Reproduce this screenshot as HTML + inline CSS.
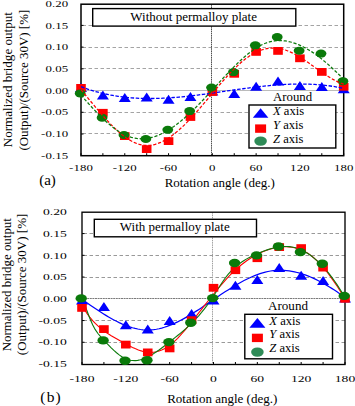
<!DOCTYPE html>
<html><head><meta charset="utf-8"><style>
html,body{margin:0;padding:0;background:#fff;}
svg{display:block;}
text{font-family:"Liberation Serif", serif;fill:#000;}
</style></head><body>
<svg width="355" height="406" viewBox="0 0 355 406">
<rect width="355" height="406" fill="#fff"/>
<line x1="82.5" y1="25.50" x2="343.7" y2="25.50" stroke="#a4a4a4" stroke-width="1" stroke-dasharray="3.5,2.5"/>
<line x1="82.5" y1="47.50" x2="343.7" y2="47.50" stroke="#a4a4a4" stroke-width="1" stroke-dasharray="3.5,2.5"/>
<line x1="82.5" y1="68.50" x2="343.7" y2="68.50" stroke="#a4a4a4" stroke-width="1" stroke-dasharray="3.5,2.5"/>
<line x1="82.5" y1="112.50" x2="343.7" y2="112.50" stroke="#a4a4a4" stroke-width="1" stroke-dasharray="3.5,2.5"/>
<line x1="82.5" y1="133.50" x2="343.7" y2="133.50" stroke="#a4a4a4" stroke-width="1" stroke-dasharray="3.5,2.5"/>
<line x1="81.0" y1="90.50" x2="343.7" y2="90.50" stroke="#bbbbbb" stroke-width="1" />
<line x1="211.50" y1="4.2" x2="211.50" y2="155.7" stroke="#505050" stroke-width="1" stroke-dasharray="1.6,0.6"/>
<rect x="81.0" y="4.2" width="262.70" height="151.50" fill="none" stroke="#000" stroke-width="1.5"/>
<line x1="81.00" y1="155.7" x2="81.00" y2="153.2" stroke="#000" stroke-width="1"/>
<line x1="102.89" y1="155.7" x2="102.89" y2="153.2" stroke="#000" stroke-width="1"/>
<line x1="124.78" y1="155.7" x2="124.78" y2="153.2" stroke="#000" stroke-width="1"/>
<line x1="146.68" y1="155.7" x2="146.68" y2="153.2" stroke="#000" stroke-width="1"/>
<line x1="168.57" y1="155.7" x2="168.57" y2="153.2" stroke="#000" stroke-width="1"/>
<line x1="190.46" y1="155.7" x2="190.46" y2="153.2" stroke="#000" stroke-width="1"/>
<line x1="212.35" y1="155.7" x2="212.35" y2="153.2" stroke="#000" stroke-width="1"/>
<line x1="234.24" y1="155.7" x2="234.24" y2="153.2" stroke="#000" stroke-width="1"/>
<line x1="256.13" y1="155.7" x2="256.13" y2="153.2" stroke="#000" stroke-width="1"/>
<line x1="278.02" y1="155.7" x2="278.02" y2="153.2" stroke="#000" stroke-width="1"/>
<line x1="299.92" y1="155.7" x2="299.92" y2="153.2" stroke="#000" stroke-width="1"/>
<line x1="321.81" y1="155.7" x2="321.81" y2="153.2" stroke="#000" stroke-width="1"/>
<line x1="343.70" y1="155.7" x2="343.70" y2="153.2" stroke="#000" stroke-width="1"/>
<line x1="81.0" y1="25.39" x2="83.5" y2="25.39" stroke="#000" stroke-width="1"/>
<line x1="81.0" y1="47.11" x2="83.5" y2="47.11" stroke="#000" stroke-width="1"/>
<line x1="81.0" y1="68.83" x2="83.5" y2="68.83" stroke="#000" stroke-width="1"/>
<line x1="81.0" y1="90.55" x2="83.5" y2="90.55" stroke="#000" stroke-width="1"/>
<line x1="81.0" y1="112.27" x2="83.5" y2="112.27" stroke="#000" stroke-width="1"/>
<line x1="81.0" y1="133.99" x2="83.5" y2="133.99" stroke="#000" stroke-width="1"/>
<rect x="92.7" y="8.6" width="203.10000000000002" height="17.5" fill="#fff" stroke="#000" stroke-width="1.4"/>
<text x="193.65" y="20.700000000000003" text-anchor="middle" font-size="13">Without permalloy plate</text>
<polygon points="75.00,92.00 87.00,92.00 81.00,83.00" fill="#0000ff"/>
<polygon points="96.89,99.50 108.89,99.50 102.89,90.50" fill="#0000ff"/>
<polygon points="118.78,102.00 130.78,102.00 124.78,93.00" fill="#0000ff"/>
<polygon points="140.68,101.40 152.68,101.40 146.68,92.40" fill="#0000ff"/>
<polygon points="162.57,103.70 174.57,103.70 168.57,94.70" fill="#0000ff"/>
<polygon points="184.46,100.90 196.46,100.90 190.46,91.90" fill="#0000ff"/>
<polygon points="206.35,95.50 218.35,95.50 212.35,86.50" fill="#0000ff"/>
<polygon points="228.24,97.90 240.24,97.90 234.24,88.90" fill="#0000ff"/>
<polygon points="250.13,90.70 262.13,90.70 256.13,81.70" fill="#0000ff"/>
<polygon points="272.02,85.60 284.02,85.60 278.02,76.60" fill="#0000ff"/>
<polygon points="293.92,90.00 305.92,90.00 299.92,81.00" fill="#0000ff"/>
<polygon points="315.81,91.10 327.81,91.10 321.81,82.10" fill="#0000ff"/>
<polygon points="337.70,93.30 349.70,93.30 343.70,84.30" fill="#0000ff"/>
<rect x="76.20" y="84.00" width="9.6" height="7.8" fill="#ff0000"/>
<rect x="98.09" y="108.90" width="9.6" height="7.8" fill="#ff0000"/>
<rect x="119.98" y="132.20" width="9.6" height="7.8" fill="#ff0000"/>
<rect x="141.88" y="145.20" width="9.6" height="7.8" fill="#ff0000"/>
<rect x="163.77" y="137.20" width="9.6" height="7.8" fill="#ff0000"/>
<rect x="185.66" y="113.10" width="9.6" height="7.8" fill="#ff0000"/>
<rect x="207.55" y="88.10" width="9.6" height="7.8" fill="#ff0000"/>
<rect x="229.44" y="69.90" width="9.6" height="7.8" fill="#ff0000"/>
<rect x="251.33" y="48.00" width="9.6" height="7.8" fill="#ff0000"/>
<rect x="273.22" y="47.00" width="9.6" height="7.8" fill="#ff0000"/>
<rect x="295.12" y="54.40" width="9.6" height="7.8" fill="#ff0000"/>
<rect x="317.01" y="68.00" width="9.6" height="7.8" fill="#ff0000"/>
<rect x="338.90" y="82.90" width="9.6" height="7.8" fill="#ff0000"/>
<ellipse cx="80.20" cy="93.40" rx="5.4" ry="4.0" fill="#0a7a0a"/>
<ellipse cx="102.09" cy="117.70" rx="5.4" ry="4.0" fill="#0a7a0a"/>
<ellipse cx="123.98" cy="135.00" rx="5.4" ry="4.0" fill="#0a7a0a"/>
<ellipse cx="145.88" cy="139.00" rx="5.4" ry="4.0" fill="#0a7a0a"/>
<ellipse cx="167.77" cy="129.80" rx="5.4" ry="4.0" fill="#0a7a0a"/>
<ellipse cx="189.66" cy="111.10" rx="5.4" ry="4.0" fill="#0a7a0a"/>
<ellipse cx="211.55" cy="87.60" rx="5.4" ry="4.0" fill="#0a7a0a"/>
<ellipse cx="233.44" cy="72.10" rx="5.4" ry="4.0" fill="#0a7a0a"/>
<ellipse cx="255.33" cy="45.30" rx="5.4" ry="4.0" fill="#0a7a0a"/>
<ellipse cx="277.22" cy="37.10" rx="5.4" ry="4.0" fill="#0a7a0a"/>
<ellipse cx="299.12" cy="50.70" rx="5.4" ry="4.0" fill="#0a7a0a"/>
<ellipse cx="321.01" cy="53.60" rx="5.4" ry="4.0" fill="#0a7a0a"/>
<ellipse cx="342.90" cy="81.20" rx="5.4" ry="4.0" fill="#0a7a0a"/>
<polyline points="81.00,86.69 83.65,87.68 86.31,88.63 88.96,89.52 91.61,90.36 94.27,91.16 96.92,91.91 99.57,92.62 102.23,93.27 104.88,93.89 107.54,94.46 110.19,94.99 112.84,95.48 115.50,95.93 118.15,96.34 120.80,96.71 123.46,97.04 126.11,97.34 128.76,97.60 131.42,97.82 134.07,98.02 136.72,98.18 139.38,98.30 142.03,98.40 144.68,98.47 147.34,98.51 149.99,98.52 152.65,98.50 155.30,98.46 157.95,98.40 160.61,98.30 163.26,98.19 165.91,98.05 168.57,97.90 171.22,97.72 173.87,97.52 176.53,97.31 179.18,97.07 181.83,96.82 184.49,96.56 187.14,96.28 189.79,95.99 192.45,95.68 195.10,95.36 197.76,95.04 200.41,94.70 203.06,94.35 205.72,94.00 208.37,93.64 211.02,93.27 213.68,92.90 216.33,92.52 218.98,92.14 221.64,91.76 224.29,91.38 226.94,90.99 229.60,90.61 232.25,90.23 234.91,89.85 237.56,89.48 240.21,89.11 242.87,88.74 245.52,88.38 248.17,88.03 250.83,87.69 253.48,87.35 256.13,87.03 258.79,86.72 261.44,86.42 264.09,86.13 266.75,85.86 269.40,85.60 272.05,85.36 274.71,85.14 277.36,84.93 280.02,84.74 282.67,84.57 285.32,84.42 287.98,84.30 290.63,84.20 293.28,84.12 295.94,84.06 298.59,84.03 301.24,84.03 303.90,84.05 306.55,84.10 309.20,84.18 311.86,84.30 314.51,84.44 317.16,84.61 319.82,84.82 322.47,85.07 325.13,85.34 327.78,85.66 330.43,86.01 333.09,86.39 335.74,86.82 338.39,87.29 341.05,87.79 343.70,88.34" fill="none" stroke="#0000ff" stroke-width="1.3" stroke-dasharray="3.5,1.6"/>
<polyline points="81.00,89.72 83.65,92.89 86.31,96.09 88.96,99.29 91.61,102.49 94.27,105.67 96.92,108.82 99.57,111.93 102.23,114.99 104.88,117.97 107.54,120.87 110.19,123.67 112.84,126.37 115.50,128.94 118.15,131.38 120.80,133.67 123.46,135.79 126.11,137.75 128.76,139.51 131.42,141.07 134.07,142.42 136.72,143.53 139.38,144.41 142.03,145.03 144.68,145.39 147.34,145.49 149.99,145.33 152.65,144.93 155.30,144.30 157.95,143.45 160.61,142.38 163.26,141.11 165.91,139.65 168.57,138.00 171.22,136.18 173.87,134.20 176.53,132.07 179.18,129.78 181.83,127.37 184.49,124.83 187.14,122.18 189.79,119.42 192.45,116.57 195.10,113.63 197.76,110.62 200.41,107.56 203.06,104.45 205.72,101.31 208.37,98.15 211.02,94.98 213.68,91.82 216.33,88.68 218.98,85.56 221.64,82.49 224.29,79.47 226.94,76.53 229.60,73.66 232.25,70.88 234.91,68.22 237.56,65.67 240.21,63.25 242.87,60.97 245.52,58.85 248.17,56.90 250.83,55.13 253.48,53.55 256.13,52.17 258.79,50.99 261.44,50.01 264.09,49.23 266.75,48.64 269.40,48.25 272.05,48.06 274.71,48.06 277.36,48.26 280.02,48.64 282.67,49.23 285.32,50.00 287.98,50.96 290.63,52.09 293.28,53.37 295.94,54.79 298.59,56.33 301.24,57.98 303.90,59.70 306.55,61.50 309.20,63.35 311.86,65.23 314.51,67.13 317.16,69.02 319.82,70.90 322.47,72.74 325.13,74.53 327.78,76.25 330.43,77.89 333.09,79.42 335.74,80.82 338.39,82.09 341.05,83.20 343.70,84.14" fill="none" stroke="#ff0000" stroke-width="1.25" stroke-dasharray="3.2,1.8"/>
<polyline points="81.00,95.04 83.65,98.07 86.31,101.08 88.96,104.05 91.61,106.96 94.27,109.82 96.92,112.61 99.57,115.32 102.23,117.93 104.88,120.44 107.54,122.84 110.19,125.10 112.84,127.24 115.50,129.22 118.15,131.04 120.80,132.69 123.46,134.16 126.11,135.44 128.76,136.52 131.42,137.38 134.07,138.03 136.72,138.47 139.38,138.72 142.03,138.77 144.68,138.63 147.34,138.32 149.99,137.83 152.65,137.16 155.30,136.33 157.95,135.35 160.61,134.21 163.26,132.92 165.91,131.50 168.57,129.94 171.22,128.24 173.87,126.43 176.53,124.50 179.18,122.45 181.83,120.30 184.49,118.05 187.14,115.70 189.79,113.26 192.45,110.74 195.10,108.15 197.76,105.48 200.41,102.75 203.06,99.97 205.72,97.14 208.37,94.27 211.02,91.39 213.68,88.48 216.33,85.58 218.98,82.67 221.64,79.78 224.29,76.91 226.94,74.07 229.60,71.28 232.25,68.53 234.91,65.85 237.56,63.24 240.21,60.72 242.87,58.29 245.52,55.97 248.17,53.77 250.83,51.71 253.48,49.79 256.13,48.02 258.79,46.43 261.44,45.02 264.09,43.80 266.75,42.78 269.40,41.96 272.05,41.34 274.71,40.90 277.36,40.65 280.02,40.59 282.67,40.69 285.32,40.97 287.98,41.41 290.63,42.00 293.28,42.75 295.94,43.65 298.59,44.70 301.24,45.88 303.90,47.19 306.55,48.64 309.20,50.20 311.86,51.88 314.51,53.68 317.16,55.58 319.82,57.58 322.47,59.68 325.13,61.87 327.78,64.15 330.43,66.51 333.09,68.94 335.74,71.45 338.39,74.02 341.05,76.65 343.70,79.33" fill="none" stroke="#0a7a0a" stroke-width="1.25" stroke-dasharray="3.2,1.8"/>
<text x="273.0" y="101.2" font-size="12.8">Around</text>
<rect x="249.0" y="105.0" width="86.80000000000001" height="43.0" fill="#fff" stroke="#000" stroke-width="1.4"/>
<text x="273.0" y="115.4" font-size="12.6"><tspan font-style="italic">X</tspan> axis</text>
<text x="273.0" y="129.3" font-size="12.6"><tspan font-style="italic">Y</tspan> axis</text>
<text x="273.0" y="143.1" font-size="12.6"><tspan font-style="italic">Z</tspan> axis</text>
<polygon points="252.85,117.75 268.35,117.75 260.60,108.25" fill="#0000ff"/>
<rect x="255.10" y="124.40" width="11.0" height="8.4" fill="#ff0000"/>
<ellipse cx="260.60" cy="141.10" rx="6.3" ry="4.7" fill="#2e8b57"/>
<text x="0" y="0" transform="translate(68.4,6.87) scale(1.6,1)" text-anchor="end" font-size="8" font-weight="normal" letter-spacing="0.1">0.20</text>
<text x="0" y="0" transform="translate(68.4,28.59) scale(1.6,1)" text-anchor="end" font-size="8" font-weight="normal" letter-spacing="0.1">0.15</text>
<text x="0" y="0" transform="translate(68.4,50.31) scale(1.6,1)" text-anchor="end" font-size="8" font-weight="normal" letter-spacing="0.1">0.10</text>
<text x="0" y="0" transform="translate(68.4,72.03) scale(1.6,1)" text-anchor="end" font-size="8" font-weight="normal" letter-spacing="0.1">0.05</text>
<text x="0" y="0" transform="translate(68.4,93.75) scale(1.6,1)" text-anchor="end" font-size="8" font-weight="normal" letter-spacing="0.1">0.00</text>
<text x="0" y="0" transform="translate(68.4,115.47) scale(1.6,1)" text-anchor="end" font-size="8" font-weight="normal" letter-spacing="0.1">-0.05</text>
<text x="0" y="0" transform="translate(68.4,137.19) scale(1.6,1)" text-anchor="end" font-size="8" font-weight="normal" letter-spacing="0.1">-0.10</text>
<text x="0" y="0" transform="translate(68.4,158.91) scale(1.6,1)" text-anchor="end" font-size="8" font-weight="normal" letter-spacing="0.1">-0.15</text>
<text x="0" y="0" transform="translate(81.00,171.4) scale(1.6,1)" text-anchor="middle" font-size="8" font-weight="normal" letter-spacing="0.1">-180</text>
<text x="0" y="0" transform="translate(124.78,171.4) scale(1.6,1)" text-anchor="middle" font-size="8" font-weight="normal" letter-spacing="0.1">-120</text>
<text x="0" y="0" transform="translate(168.57,171.4) scale(1.6,1)" text-anchor="middle" font-size="8" font-weight="normal" letter-spacing="0.1">-60</text>
<text x="0" y="0" transform="translate(212.35,171.4) scale(1.6,1)" text-anchor="middle" font-size="8" font-weight="normal" letter-spacing="0.1">0</text>
<text x="0" y="0" transform="translate(256.13,171.4) scale(1.6,1)" text-anchor="middle" font-size="8" font-weight="normal" letter-spacing="0.1">60</text>
<text x="0" y="0" transform="translate(299.92,171.4) scale(1.6,1)" text-anchor="middle" font-size="8" font-weight="normal" letter-spacing="0.1">120</text>
<text x="0" y="0" transform="translate(343.70,171.4) scale(1.6,1)" text-anchor="middle" font-size="8" font-weight="normal" letter-spacing="0.1">180</text>
<text x="39.2" y="185.2" font-size="15">(a)</text>
<text x="164.7" y="186.7" font-size="13">Rotation angle (deg.)</text>
<text transform="translate(12.1,147.3) rotate(-90)" font-size="13.1">Normalized bridge output</text>
<text transform="translate(27.9,150.6) rotate(-90)" font-size="12.95">(Output)/(Source 30V) [%]</text>
<line x1="83.5" y1="233.50" x2="345.0" y2="233.50" stroke="#999999" stroke-width="1" stroke-dasharray="3.5,2.5"/>
<line x1="83.5" y1="255.50" x2="345.0" y2="255.50" stroke="#999999" stroke-width="1" stroke-dasharray="3.5,2.5"/>
<line x1="83.5" y1="277.50" x2="345.0" y2="277.50" stroke="#999999" stroke-width="1" stroke-dasharray="3.5,2.5"/>
<line x1="83.5" y1="320.50" x2="345.0" y2="320.50" stroke="#999999" stroke-width="1" stroke-dasharray="3.5,2.5"/>
<line x1="83.5" y1="342.50" x2="345.0" y2="342.50" stroke="#999999" stroke-width="1" stroke-dasharray="3.5,2.5"/>
<line x1="82.0" y1="298.50" x2="345.0" y2="298.50" stroke="#7a7a7a" stroke-width="1" stroke-dasharray="2,0.6"/>
<line x1="212.50" y1="212.2" x2="212.50" y2="364.5" stroke="#a0a0a0" stroke-width="1" stroke-dasharray="1.5,0.8"/>
<rect x="82.0" y="212.2" width="263.00" height="152.30" fill="none" stroke="#000" stroke-width="1.35"/>
<line x1="82.00" y1="364.5" x2="82.00" y2="362.0" stroke="#000" stroke-width="1"/>
<line x1="103.92" y1="364.5" x2="103.92" y2="362.0" stroke="#000" stroke-width="1"/>
<line x1="125.83" y1="364.5" x2="125.83" y2="362.0" stroke="#000" stroke-width="1"/>
<line x1="147.75" y1="364.5" x2="147.75" y2="362.0" stroke="#000" stroke-width="1"/>
<line x1="169.67" y1="364.5" x2="169.67" y2="362.0" stroke="#000" stroke-width="1"/>
<line x1="191.58" y1="364.5" x2="191.58" y2="362.0" stroke="#000" stroke-width="1"/>
<line x1="213.50" y1="364.5" x2="213.50" y2="362.0" stroke="#000" stroke-width="1"/>
<line x1="235.42" y1="364.5" x2="235.42" y2="362.0" stroke="#000" stroke-width="1"/>
<line x1="257.33" y1="364.5" x2="257.33" y2="362.0" stroke="#000" stroke-width="1"/>
<line x1="279.25" y1="364.5" x2="279.25" y2="362.0" stroke="#000" stroke-width="1"/>
<line x1="301.17" y1="364.5" x2="301.17" y2="362.0" stroke="#000" stroke-width="1"/>
<line x1="323.08" y1="364.5" x2="323.08" y2="362.0" stroke="#000" stroke-width="1"/>
<line x1="345.00" y1="364.5" x2="345.00" y2="362.0" stroke="#000" stroke-width="1"/>
<line x1="82.0" y1="233.58" x2="84.5" y2="233.58" stroke="#000" stroke-width="1"/>
<line x1="82.0" y1="255.32" x2="84.5" y2="255.32" stroke="#000" stroke-width="1"/>
<line x1="82.0" y1="277.06" x2="84.5" y2="277.06" stroke="#000" stroke-width="1"/>
<line x1="82.0" y1="298.80" x2="84.5" y2="298.80" stroke="#000" stroke-width="1"/>
<line x1="82.0" y1="320.54" x2="84.5" y2="320.54" stroke="#000" stroke-width="1"/>
<line x1="82.0" y1="342.28" x2="84.5" y2="342.28" stroke="#000" stroke-width="1"/>
<rect x="94.3" y="219.3" width="162.2" height="17.5" fill="#fff" stroke="#000" stroke-width="1.4"/>
<text x="174.8" y="231.4" text-anchor="middle" font-size="13">With permalloy plate</text>
<polyline points="82.00,299.37 84.66,301.23 87.31,303.08 89.97,304.93 92.63,306.75 95.28,308.55 97.94,310.32 100.60,312.05 103.25,313.73 105.91,315.37 108.57,316.96 111.22,318.48 113.88,319.93 116.54,321.32 119.19,322.62 121.85,323.84 124.51,324.97 127.16,326.00 129.82,326.93 132.47,327.74 135.13,328.45 137.79,329.03 140.44,329.48 143.10,329.80 145.76,329.99 148.41,330.02 151.07,329.91 153.73,329.65 156.38,329.25 159.04,328.73 161.70,328.07 164.35,327.30 167.01,326.41 169.67,325.42 172.32,324.33 174.98,323.15 177.64,321.88 180.29,320.53 182.95,319.10 185.61,317.61 188.26,316.06 190.92,314.46 193.58,312.81 196.23,311.12 198.89,309.40 201.55,307.64 204.20,305.87 206.86,304.08 209.52,302.29 212.17,300.48 214.83,298.69 217.48,296.89 220.14,295.12 222.80,293.35 225.45,291.62 228.11,289.91 230.77,288.24 233.42,286.60 236.08,285.02 238.74,283.48 241.39,282.00 244.05,280.58 246.71,279.23 249.36,277.96 252.02,276.76 254.68,275.64 257.33,274.62 259.99,273.69 262.65,272.86 265.30,272.13 267.96,271.52 270.62,271.02 273.27,270.65 275.93,270.40 278.59,270.27 281.24,270.25 283.90,270.35 286.56,270.56 289.21,270.88 291.87,271.31 294.53,271.84 297.18,272.47 299.84,273.19 302.49,274.01 305.15,274.92 307.81,275.92 310.46,277.00 313.12,278.17 315.78,279.41 318.43,280.73 321.09,282.13 323.75,283.59 326.40,285.12 329.06,286.72 331.72,288.38 334.37,290.09 337.03,291.86 339.69,293.69 342.34,295.57 345.00,297.49" fill="none" stroke="#0000ff" stroke-width="1.2" />
<polyline points="82.00,305.56 84.66,309.99 87.31,313.94 89.97,317.46 92.63,320.61 95.28,323.43 97.94,325.96 100.60,328.26 103.25,330.36 105.91,332.28 108.57,334.06 111.22,335.72 113.88,337.29 116.54,338.80 119.19,340.28 121.85,341.76 124.51,343.24 127.16,344.69 129.82,346.08 132.47,347.41 135.13,348.62 137.79,349.71 140.44,350.65 143.10,351.41 145.76,351.96 148.41,352.28 151.07,352.36 153.73,352.19 156.38,351.75 159.04,351.06 161.70,350.08 164.35,348.82 167.01,347.27 169.67,345.42 172.32,343.29 174.98,340.89 177.64,338.27 180.29,335.45 182.95,332.46 185.61,329.34 188.26,326.12 190.92,322.82 193.58,319.47 196.23,316.10 198.89,312.70 201.55,309.29 204.20,305.89 206.86,302.49 209.52,299.12 212.17,295.78 214.83,292.49 217.48,289.25 220.14,286.09 222.80,283.02 225.45,280.04 228.11,277.18 230.77,274.44 233.42,271.82 236.08,269.34 238.74,267.00 241.39,264.79 244.05,262.72 246.71,260.77 249.36,258.96 252.02,257.26 254.68,255.70 257.33,254.26 259.99,252.95 262.65,251.76 265.30,250.70 267.96,249.77 270.62,248.96 273.27,248.28 275.93,247.72 278.59,247.29 281.24,246.98 283.90,246.81 286.56,246.79 289.21,246.92 291.87,247.23 294.53,247.72 297.18,248.40 299.84,249.29 302.49,250.40 305.15,251.74 307.81,253.33 310.46,255.17 313.12,257.27 315.78,259.62 318.43,262.21 321.09,265.02 323.75,268.05 326.40,271.28 329.06,274.71 331.72,278.32 334.37,282.10 337.03,286.05 339.69,290.14 342.34,294.37 345.00,298.72" fill="none" stroke="#ff0000" stroke-width="1.1" />
<polyline points="82.00,297.14 84.66,304.39 87.31,311.73 89.97,318.68 92.63,324.78 95.28,329.67 97.94,333.53 100.60,336.71 103.25,339.57 105.91,342.39 108.57,345.17 111.22,347.86 113.88,350.41 116.54,352.77 119.19,354.90 121.85,356.75 124.51,358.28 127.16,359.42 129.82,360.18 132.47,360.57 135.13,360.62 137.79,360.36 140.44,359.80 143.10,358.99 145.76,357.93 148.41,356.65 151.07,355.19 153.73,353.57 156.38,351.81 159.04,349.94 161.70,347.97 164.35,345.95 167.01,343.89 169.67,341.83 172.32,339.75 174.98,337.66 177.64,335.53 180.29,333.35 182.95,331.11 185.61,328.79 188.26,326.38 190.92,323.87 193.58,321.23 196.23,318.45 198.89,315.52 201.55,312.42 204.20,309.15 206.86,305.68 209.52,301.99 212.17,298.08 214.83,293.95 217.48,289.68 220.14,285.45 222.80,281.44 225.45,277.77 228.11,274.45 230.77,271.45 233.42,268.76 236.08,266.34 238.74,264.16 241.39,262.21 244.05,260.46 246.71,258.87 249.36,257.43 252.02,256.11 254.68,254.88 257.33,253.71 259.99,252.59 262.65,251.53 265.30,250.53 267.96,249.61 270.62,248.78 273.27,248.06 275.93,247.45 278.59,246.97 281.24,246.64 283.90,246.47 286.56,246.46 289.21,246.63 291.87,247.00 294.53,247.57 297.18,248.35 299.84,249.33 302.49,250.52 305.15,251.91 307.81,253.51 310.46,255.31 313.12,257.32 315.78,259.54 318.43,261.96 321.09,264.58 323.75,267.42 326.40,270.45 329.06,273.69 331.72,277.14 334.37,280.80 337.03,284.66 339.69,288.72 342.34,293.00 345.00,297.48" fill="none" stroke="#0a7a0a" stroke-width="1.1" />
<polygon points="76.00,304.50 88.00,304.50 82.00,295.50" fill="#0000ff"/>
<polygon points="97.92,310.90 109.92,310.90 103.92,301.90" fill="#0000ff"/>
<polygon points="119.83,329.20 131.83,329.20 125.83,320.20" fill="#0000ff"/>
<polygon points="141.75,333.60 153.75,333.60 147.75,324.60" fill="#0000ff"/>
<polygon points="163.67,325.10 175.67,325.10 169.67,316.10" fill="#0000ff"/>
<polygon points="185.58,317.90 197.58,317.90 191.58,308.90" fill="#0000ff"/>
<polygon points="207.50,304.50 219.50,304.50 213.50,295.50" fill="#0000ff"/>
<polygon points="229.42,289.70 241.42,289.70 235.42,280.70" fill="#0000ff"/>
<polygon points="251.33,283.90 263.33,283.90 257.33,274.90" fill="#0000ff"/>
<polygon points="273.25,272.00 285.25,272.00 279.25,263.00" fill="#0000ff"/>
<polygon points="295.17,279.70 307.17,279.70 301.17,270.70" fill="#0000ff"/>
<polygon points="317.08,284.90 329.08,284.90 323.08,275.90" fill="#0000ff"/>
<polygon points="339.00,302.50 351.00,302.50 345.00,293.50" fill="#0000ff"/>
<rect x="77.20" y="304.00" width="9.6" height="7.8" fill="#ff0000"/>
<rect x="99.12" y="325.20" width="9.6" height="7.8" fill="#ff0000"/>
<rect x="121.03" y="340.70" width="9.6" height="7.8" fill="#ff0000"/>
<rect x="142.95" y="348.50" width="9.6" height="7.8" fill="#ff0000"/>
<rect x="164.87" y="344.50" width="9.6" height="7.8" fill="#ff0000"/>
<rect x="186.78" y="316.30" width="9.6" height="7.8" fill="#ff0000"/>
<rect x="208.70" y="283.90" width="9.6" height="7.8" fill="#ff0000"/>
<rect x="230.62" y="266.30" width="9.6" height="7.8" fill="#ff0000"/>
<rect x="252.53" y="254.30" width="9.6" height="7.8" fill="#ff0000"/>
<rect x="274.45" y="243.20" width="9.6" height="7.8" fill="#ff0000"/>
<rect x="296.37" y="244.20" width="9.6" height="7.8" fill="#ff0000"/>
<rect x="318.28" y="263.70" width="9.6" height="7.8" fill="#ff0000"/>
<rect x="340.20" y="294.90" width="9.6" height="7.8" fill="#ff0000"/>
<ellipse cx="81.20" cy="298.40" rx="5.7" ry="4.2" fill="#0a7a0a"/>
<ellipse cx="103.12" cy="340.40" rx="5.7" ry="4.2" fill="#0a7a0a"/>
<ellipse cx="125.03" cy="360.70" rx="5.7" ry="4.2" fill="#0a7a0a"/>
<ellipse cx="146.95" cy="360.20" rx="5.7" ry="4.2" fill="#0a7a0a"/>
<ellipse cx="168.87" cy="342.10" rx="5.7" ry="4.2" fill="#0a7a0a"/>
<ellipse cx="190.78" cy="322.70" rx="5.7" ry="4.2" fill="#0a7a0a"/>
<ellipse cx="212.70" cy="298.10" rx="5.7" ry="4.2" fill="#0a7a0a"/>
<ellipse cx="234.62" cy="263.00" rx="5.7" ry="4.2" fill="#0a7a0a"/>
<ellipse cx="256.53" cy="255.40" rx="5.7" ry="4.2" fill="#0a7a0a"/>
<ellipse cx="278.45" cy="246.50" rx="5.7" ry="4.2" fill="#0a7a0a"/>
<ellipse cx="300.37" cy="252.10" rx="5.7" ry="4.2" fill="#0a7a0a"/>
<ellipse cx="322.28" cy="263.70" rx="5.7" ry="4.2" fill="#0a7a0a"/>
<ellipse cx="344.20" cy="295.90" rx="5.7" ry="4.2" fill="#0a7a0a"/>
<text x="268.0" y="309.7" font-size="13.1">Around</text>
<rect x="244.8" y="314.3" width="87.69999999999999" height="44.5" fill="#fff" stroke="#000" stroke-width="1.4"/>
<text x="269.3" y="324.6" font-size="12.6"><tspan font-style="italic">X</tspan> axis</text>
<text x="269.3" y="338.2" font-size="12.6"><tspan font-style="italic">Y</tspan> axis</text>
<text x="269.3" y="351.9" font-size="12.6"><tspan font-style="italic">Z</tspan> axis</text>
<polygon points="249.40,327.80 265.40,327.80 257.40,318.00" fill="#0000ff"/>
<rect x="251.90" y="333.70" width="11.0" height="8.4" fill="#ff0000"/>
<ellipse cx="257.40" cy="352.10" rx="6.3" ry="4.7" fill="#2e8b57"/>
<text x="0" y="0" transform="translate(66.8,215.04) scale(1.55,1)" text-anchor="end" font-size="8.8" font-weight="normal" letter-spacing="0.0">0.20</text>
<text x="0" y="0" transform="translate(66.8,236.78) scale(1.55,1)" text-anchor="end" font-size="8.8" font-weight="normal" letter-spacing="0.0">0.15</text>
<text x="0" y="0" transform="translate(66.8,258.52) scale(1.55,1)" text-anchor="end" font-size="8.8" font-weight="normal" letter-spacing="0.0">0.10</text>
<text x="0" y="0" transform="translate(66.8,280.26) scale(1.55,1)" text-anchor="end" font-size="8.8" font-weight="normal" letter-spacing="0.0">0.05</text>
<text x="0" y="0" transform="translate(66.8,302.00) scale(1.55,1)" text-anchor="end" font-size="8.8" font-weight="normal" letter-spacing="0.0">0.00</text>
<text x="0" y="0" transform="translate(66.8,323.74) scale(1.55,1)" text-anchor="end" font-size="8.8" font-weight="normal" letter-spacing="0.0">-0.05</text>
<text x="0" y="0" transform="translate(66.8,345.48) scale(1.55,1)" text-anchor="end" font-size="8.8" font-weight="normal" letter-spacing="0.0">-0.10</text>
<text x="0" y="0" transform="translate(66.8,367.22) scale(1.55,1)" text-anchor="end" font-size="8.8" font-weight="normal" letter-spacing="0.0">-0.15</text>
<text x="0" y="0" transform="translate(82.00,382.3) scale(1.55,1)" text-anchor="middle" font-size="8.8" font-weight="normal" letter-spacing="0.0">-180</text>
<text x="0" y="0" transform="translate(125.83,382.3) scale(1.55,1)" text-anchor="middle" font-size="8.8" font-weight="normal" letter-spacing="0.0">-120</text>
<text x="0" y="0" transform="translate(169.67,382.3) scale(1.55,1)" text-anchor="middle" font-size="8.8" font-weight="normal" letter-spacing="0.0">-60</text>
<text x="0" y="0" transform="translate(213.50,382.3) scale(1.55,1)" text-anchor="middle" font-size="8.8" font-weight="normal" letter-spacing="0.0">0</text>
<text x="0" y="0" transform="translate(257.33,382.3) scale(1.55,1)" text-anchor="middle" font-size="8.8" font-weight="normal" letter-spacing="0.0">60</text>
<text x="0" y="0" transform="translate(301.17,382.3) scale(1.55,1)" text-anchor="middle" font-size="8.8" font-weight="normal" letter-spacing="0.0">120</text>
<text x="0" y="0" transform="translate(345.00,382.3) scale(1.55,1)" text-anchor="middle" font-size="8.8" font-weight="normal" letter-spacing="0.0">180</text>
<text x="40.3" y="401.5" font-size="15.5" letter-spacing="1.2">(b)</text>
<text x="167.2" y="403" font-size="13">Rotation angle (deg.)</text>
<text transform="translate(10.6,351.3) rotate(-90)" font-size="12.9">Normalized bridge output</text>
<text transform="translate(25.6,355.2) rotate(-90)" font-size="13">(Output)/(Source 30V) [%]</text>
</svg>
</body></html>
